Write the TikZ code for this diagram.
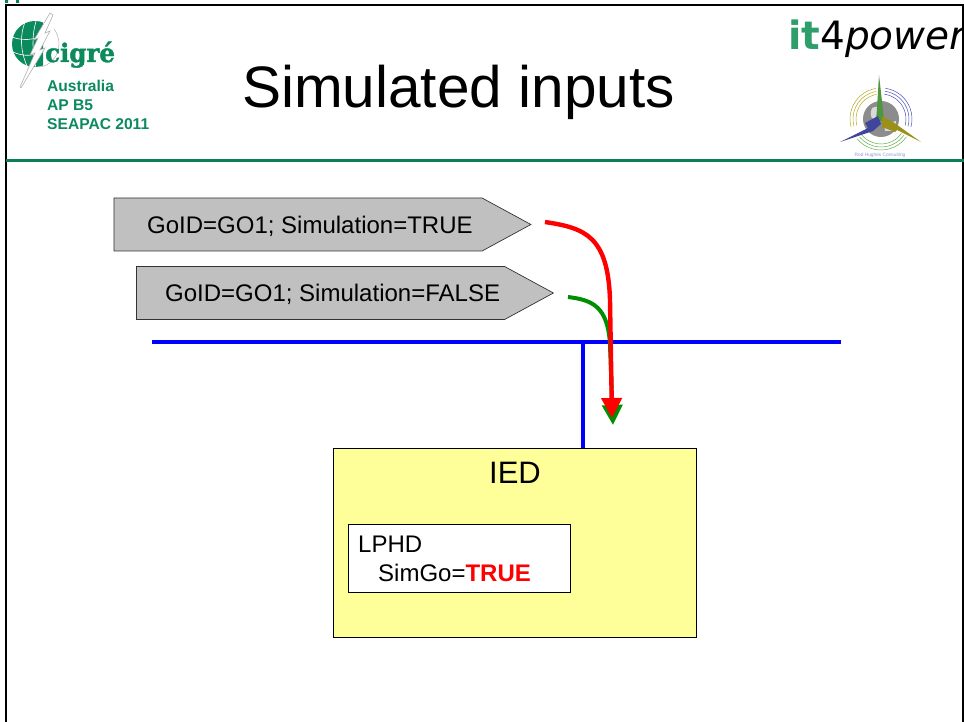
\documentclass[tikz,border=0pt]{standalone}
\usepackage{fontspec}
\setmainfont{Liberation Sans}
\newfontfamily\dejavu{DejaVu Sans}
\newfontfamily\logoserif[FakeBold=1.8,FakeStretch=.96]{DejaVu Serif Bold}
\usetikzlibrary{shapes.symbols,arrows.meta}
\definecolor{cigregreen}{HTML}{0B8A5E}
\definecolor{rulegreen}{HTML}{0A7F5A}
\definecolor{itgreen}{HTML}{2E9E6B}
\definecolor{pentgray}{HTML}{C0C0C0}
\definecolor{iedyellow}{HTML}{FFFF99}
\definecolor{busblue}{HTML}{0000FF}
\definecolor{sigred}{HTML}{FF0000}
\definecolor{siggreen}{HTML}{008F00}
\definecolor{ringblue}{HTML}{4A50B8}
\definecolor{ringyellow}{HTML}{B5A91F}
\definecolor{ringgreen}{HTML}{5DB04A}
\tikzset{
  x=1pt,y=-1pt,
  msgbox/.style={draw=black!80,line width=.7pt,fill=pentgray,shape=signal,signal from=nowhere,signal to=east,signal pointer angle=57,minimum height=53pt,inner sep=0pt,font=\fontsize{24}{28}\selectfont},
  msgtext/.style={font=\fontsize{24}{28}\selectfont,inner sep=0pt,anchor=west},
  bus/.style={draw=busblue,line width=4.6pt},
  sigline/.style={line width=#1,line cap=butt},
  headgreen/.style={-{Triangle[length=20pt,width=20pt]}},
  logotext/.style={text=cigregreen,font=\bfseries\fontsize{15.6}{18}\selectfont,inner sep=0pt,anchor=west},
  plain/.style={inner sep=0pt,font=\fontsize{24}{28}\selectfont,anchor=west},
}
\begin{document}
\begin{tikzpicture}
\useasboundingbox (0,0) rectangle (964,722);
% corner marks
\fill[rulegreen] (5,0) rectangle (8,3) (16,0) rectangle (19,3);
% CIGRE logo
\begin{scope}
\clip (8,18) rectangle (43,70);
\fill[cigregreen] (35,44) circle (23);
\draw[white,line width=.6pt] (12,37) .. controls (25,42) and (40,40) .. (54,28)
  (13,52) .. controls (22,56) and (30,56) .. (36,54)
  (25,22) .. controls (20,35) and (20,50) .. (27,66)
  (36,21) .. controls (32,35) and (32,50) .. (36,68);
\end{scope}
\draw[black!30,line width=.5pt] (38,67) .. controls (50,67) and (59,56) .. (59,44) .. controls (59,38) and (57,33) .. (54,29);
\filldraw[fill=white,draw=black!30,line width=.6pt] (50,13) -- (53,15) -- (45,33) -- (50,31) -- (40,50) -- (45,48) -- (21,88) -- (20,87) -- (35,53) -- (30,55) -- (38,38) -- (34,40) -- cycle;
\node[inner sep=0pt,anchor=base west,text=cigregreen] (cigreword) at (45,62) {\logoserif\fontsize{25.5}{27}\selectfont cigré};
\node[logotext] (l1) at (47,86) {Australia};
\node[logotext] (l2) at (47,105) {AP B5};
\node[logotext] (l3) at (47,124) {SEAPAC 2011};
% title
\node[inner sep=0pt,anchor=base west,font=\fontsize{58.5}{60}\selectfont] (title) at (242,108) {Simulated inputs};
% it4power
\node[inner sep=0pt,anchor=base west] (itp) at (788,50) {\dejavu\fontsize{39}{39}\selectfont\textcolor{itgreen}{\bfseries it}4\itshape power};
% right logo
\begin{scope}[shift={(881,119)},y=1pt]
\fill[black!45] (0,0) circle (18);
\fill[black!15] (-9,11) .. controls (-1,15) and (4,8) .. (-1,1) .. controls (-7,-3) and (-13,1) .. (-9,11);
\fill[black!15] (3,-5) -- (15,-2) -- (14,-12) -- (4,-12) -- cycle;
\foreach \r in {25,28,31}{
  \draw[ringyellow,line width=.5pt] (100:\r) arc[start angle=100,end angle=195,radius=\r];
  \draw[ringblue,line width=.5pt] (82:\r) arc[start angle=82,end angle=-15,radius=\r];
  \draw[ringgreen,line width=.5pt] (-35:\r) arc[start angle=-35,end angle=-140,radius=\r];
}
\fill[ringgreen!85!black] (-2,44) -- (2,9) -- (3,-2) -- (-5,-2) -- (-4,11) -- cycle;
\fill[ringblue!85!black] (-41,-23) -- (-13,-9) -- (-16,-4) -- (-3,3) -- (0,-5) -- (-8,-12) -- cycle;
\fill[ringyellow!85!black] (40,-23) -- (12,-3) -- (1,3) -- (1,-8) -- (14,-13) -- (16,-11) -- cycle;
\end{scope}
\node[inner sep=0pt,text=ringblue!60,font=\fontsize{4.8}{5}\selectfont] (rod) at (880,155) {Rod Hughes Consulting};
% frame
\draw[black,line width=2.2pt] (6,722) -- (6,5) -- (963,5) -- (963,722);
\draw[rulegreen,line width=3.2pt] (6,160.5) -- (964,160.5);
% bus
\coordinate (busL) at (152,342);
\coordinate (busR) at (841,342);
\coordinate (junc) at (583,342);
% IED
\node[draw=black,line width=.7pt,fill=iedyellow,minimum width=363pt,minimum height=189pt,inner sep=0pt] (ied) at (514.5,542.5) {};
\node[inner sep=0pt,font=\fontsize{31}{33}\selectfont] (iedlabel) at (515,473) {IED};
\node[draw=black,line width=.7pt,fill=white,minimum width=222pt,minimum height=68pt,inner sep=0pt] (lphd) at (459,558) {};
\node[plain] (t1) at (358,544) {LPHD};
\node[plain] (t2) at (378,573) {SimGo=\textcolor{sigred}{\bfseries TRUE}};
\draw[bus] (busL) -- (busR);
\draw[bus] (junc) -- (junc |- ied.north);
% messages
\node[msgbox,minimum width=417pt] (m1) at (298,224.5) {};
\node[msgbox,minimum width=417pt] (m2) at (320.5,293) {};
\node[msgtext] (m1t) at (147,226) {GoID=GO1; Simulation=TRUE};
\node[msgtext] (m2t) at (165,294) {GoID=GO1; Simulation=FALSE};
% connectors
\coordinate (gs) at (568,297);
\coordinate (gm) at (610,345);
\coordinate (ge) at (613,425);
\coordinate (rs) at (545,222);
\coordinate (rm) at (610,300);
\coordinate (re) at (612,418);
\draw[siggreen,sigline=4pt,headgreen] (gs) .. controls (592,300) and (608,306) .. (gm) -- (ge);
\draw[sigred,sigline=4.4pt,headgreen] (rs) .. controls (585,228) and (608,236) .. (rm) -- (re);
\end{tikzpicture}
\end{document}
